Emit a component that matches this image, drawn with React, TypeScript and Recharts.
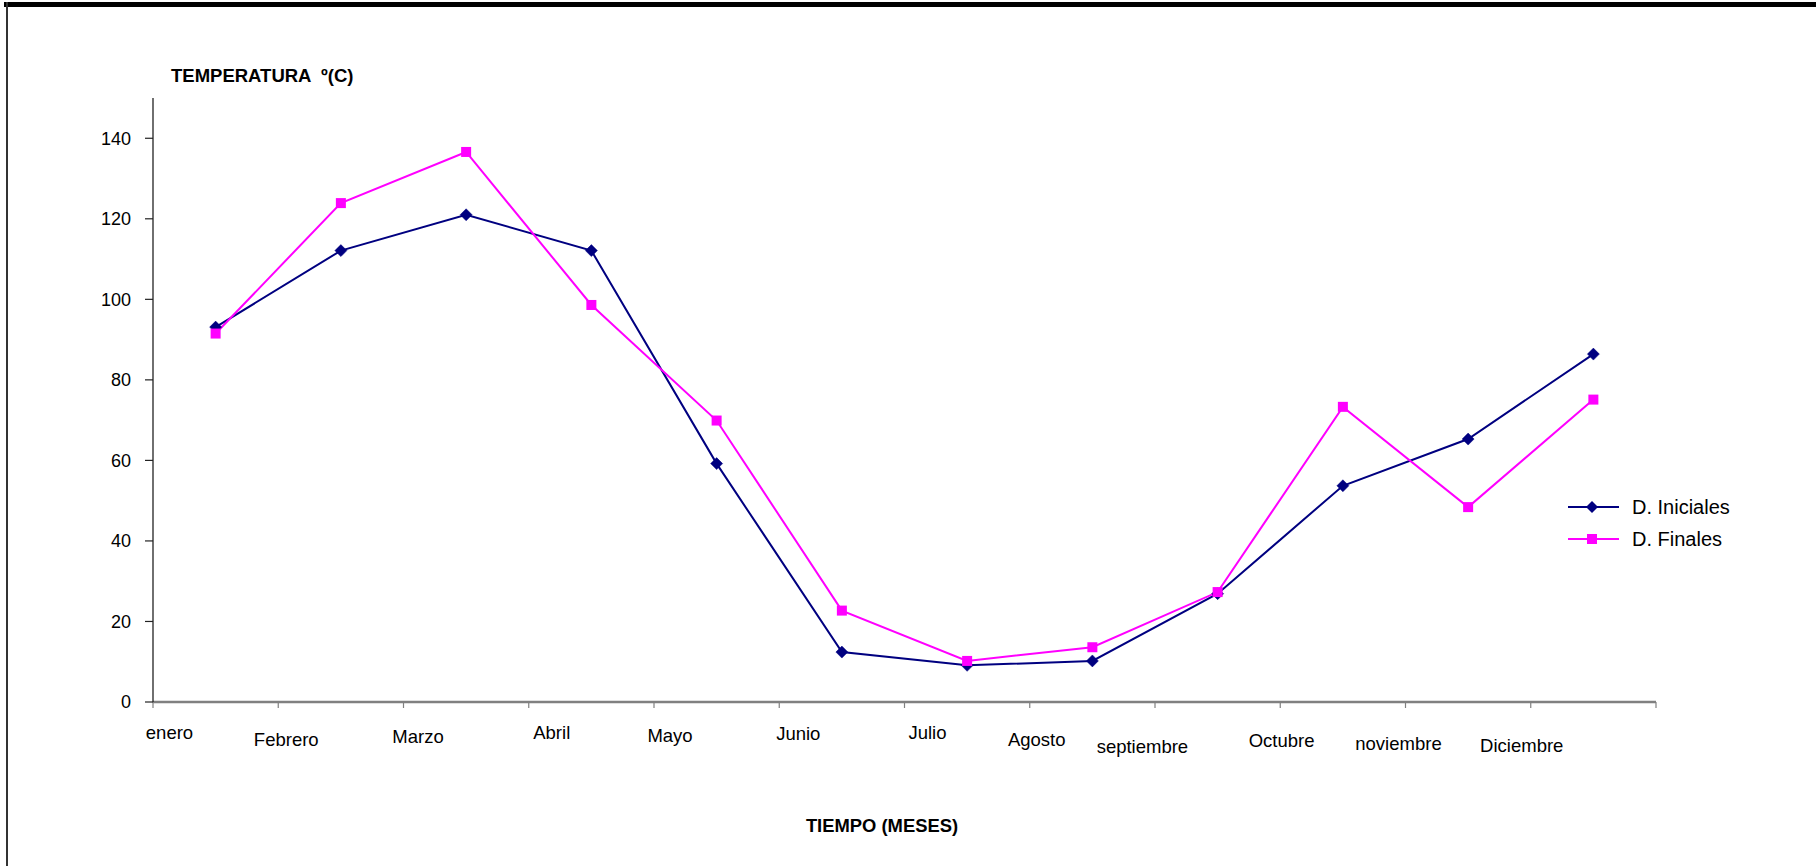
import React from 'react';
import { LineChart, Line, XAxis, YAxis, Legend } from 'recharts';

// ---- data ----
const MONTHS = ['enero', 'Febrero', 'Marzo', 'Abril', 'Mayo', 'Junio', 'Julio', 'Agosto', 'septiembre', 'Octubre', 'noviembre', 'Diciembre'];
const D_INICIALES = [93.1, 112.1, 121.0, 112.1, 59.2, 12.4, 9.1, 10.2, 26.9, 53.7, 65.3, 86.4];
const D_FINALES = [91.5, 123.9, 136.6, 98.6, 69.9, 22.7, 10.2, 13.6, 27.3, 73.3, 48.4, 75.1];
const Y_TICKS = [0, 20, 40, 60, 80, 100, 120, 140];
const Y_DOMAIN = [0, 150];
const X_BOUNDARIES = [0, 1, 2, 3, 4, 5, 6, 7, 8, 9, 10, 11, 12];
const SERIES_ORDER = ['ini', 'fin'];

// ---- layout constants (staggered month labels, offsets from their boundary tick) ----
const LABEL_DX = [16.5, 8, 14.5, 23, 16, 19, 23, 7, -12.6, 1.4, -7, -9];
const LABEL_DY = [30.7, 37.3, 34.3, 30.7, 33, 31.3, 30.7, 37, 44.3, 38.3, 41.3, 43];

const FONT = "'Liberation Sans', Arial, Helvetica, sans-serif";
const NAVY = '#000080';
const MAGENTA = '#FF00FF';
const X_TICK_SIZE = 6;

const data = MONTHS.map((m, i) => ({ month: m, pos: i + 0.5, ini: D_INICIALES[i], fin: D_FINALES[i] }));

const Diamond = (props: any) => {
  const { cx, cy, index } = props;
  if (cx == null || cy == null) return <g key={`d${index}`} />;
  const h = 6;
  return <polygon key={`d${index}`} points={`${cx},${cy - h} ${cx + h},${cy} ${cx},${cy + h} ${cx - h},${cy}`} fill={NAVY} stroke={NAVY} strokeWidth={0.5} />;
};

const Square = (props: any) => {
  const { cx, cy, index } = props;
  if (cx == null || cy == null) return <g key={`s${index}`} />;
  const h = 5;
  return <rect key={`s${index}`} x={cx - h} y={cy - h} width={2 * h} height={2 * h} fill={MAGENTA} />;
};

const MonthTick = (props: any) => {
  const { x, y, payload } = props;
  const i = Math.round(payload.value);
  if (i < 0 || i >= MONTHS.length) return <g />;
  const axisY = y - X_TICK_SIZE;
  return (
    <text x={x + LABEL_DX[i]} y={axisY + LABEL_DY[i] + 6.6} textAnchor="middle" fontSize={18.5} fontFamily={FONT} fill="#000">
      {MONTHS[i]}
    </text>
  );
};

const LegendContent = (props: any) => {
  const payload = [...(props.payload || [])].sort(
    (a: any, b: any) => SERIES_ORDER.indexOf(a.dataKey) - SERIES_ORDER.indexOf(b.dataKey)
  );
  return (
    <svg width={220} height={64} style={{ display: 'block' }}>
      {payload.map((entry: any, i: number) => {
        const cy = 16 + 32 * i;
        const color = entry.color;
        const isFinal = entry.dataKey === 'fin';
        return (
          <g key={i}>
            <line x1={0} y1={cy} x2={51} y2={cy} stroke={color} strokeWidth={2} />
            {isFinal ? (
              <rect x={19} y={cy - 5} width={10} height={10} fill={color} />
            ) : (
              <polygon points={`24,${cy - 6} 30,${cy} 24,${cy + 6} 18,${cy}`} fill={color} />
            )}
            <text x={64} y={cy + 7.2} fontSize={20} fontFamily={FONT} fill="#000">{entry.value}</text>
          </g>
        );
      })}
    </svg>
  );
};

export default function App() {
  return (
    <div style={{ position: 'absolute', left: 0, top: 0, width: 1816, height: 866, background: '#fff', overflow: 'hidden' }}>
      <LineChart
        width={1816}
        height={866}
        data={data}
        margin={{ top: 98, right: 160, bottom: 134, left: 93 }}
      >
        <XAxis
          type="number"
          dataKey="pos"
          domain={[0, 12]}
          ticks={X_BOUNDARIES}
          interval={0}
          height={30}
          tickSize={X_TICK_SIZE}
          tickMargin={0}
          axisLine={{ stroke: '#808080', strokeWidth: 2.5 }}
          tickLine={{ stroke: '#808080', strokeWidth: 1.2 }}
          tick={<MonthTick />}
          allowDecimals
        />
        <YAxis
          type="number"
          domain={Y_DOMAIN}
          ticks={Y_TICKS}
          interval={0}
          width={60}
          tickSize={8}
          tickMargin={14}
          axisLine={{ stroke: '#222', strokeWidth: 1.3 }}
          tickLine={{ stroke: '#222', strokeWidth: 1.2 }}
          tick={{ fontSize: 18, fill: '#000', fontFamily: FONT }}
        />
        <Legend
          layout="vertical"
          align="center"
          verticalAlign="middle"
          wrapperStyle={{ left: 1568, top: 491, width: 220, height: 64 }}
          content={<LegendContent />}
        />
        <Line type="linear" dataKey="ini" name="D. Iniciales" stroke={NAVY} strokeWidth={2} dot={Diamond} activeDot={false} isAnimationActive={false} />
        <Line type="linear" dataKey="fin" name="D. Finales" stroke={MAGENTA} strokeWidth={2} dot={Square} activeDot={false} isAnimationActive={false} />
      </LineChart>
      <svg width={1816} height={866} style={{ position: 'absolute', left: 0, top: 0, pointerEvents: 'none' }}>
        <rect x={4} y={2} width={1812} height={5} fill="#000" />
        <rect x={6} y={2} width={2} height={864} fill="#333" />
        <text x={171} y={81.6} fontSize={18.5} fontWeight="bold" fontFamily={FONT} fill="#000" style={{ whiteSpace: 'pre' }}>
          {'TEMPERATURA  º(C)'}
        </text>
        <text x={882} y={831.6} textAnchor="middle" fontSize={18.4} fontWeight="bold" fontFamily={FONT} fill="#000">
          TIEMPO (MESES)
        </text>
      </svg>
    </div>
  );
}
